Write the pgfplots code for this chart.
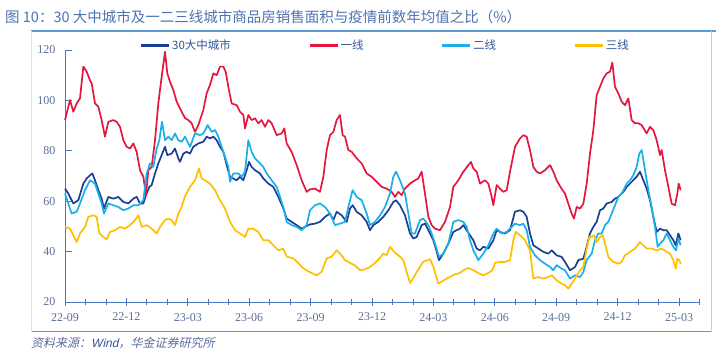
\documentclass[border=0pt]{standalone}
\usepackage{pgfplots}
\pgfplotsset{compat=1.18}
\usepackage{fontspec}
\setmainfont{Liberation Serif}
\newfontfamily\cjk{Noto Sans CJK SC}
\newfontfamily\cjkit[FakeSlant=0.22]{Noto Sans CJK SC}
\newfontfamily\sfit[FakeSlant=0.22]{Liberation Sans}
\definecolor{cBig}{HTML}{1B3F94}
\definecolor{cOne}{HTML}{E5173F}
\definecolor{cTwo}{HTML}{1AAFE8}
\definecolor{cThree}{HTML}{FFC000}
\definecolor{axisblue}{HTML}{4A76C0}
\definecolor{ticktext}{HTML}{5A6E9C}
\definecolor{titleblue}{HTML}{4E72B0}
\definecolor{legtext}{HTML}{2F5597}
\definecolor{frameblue}{HTML}{5B9BD5}
\begin{document}
\begin{tikzpicture}
\path[use as bounding box] (0,0) rectangle (716bp,364bp);
% frame
\draw[frameblue, line width=1.2bp] (31bp,333bp) -- (716bp,333bp);
\draw[frameblue, line width=1bp] (31bp,32bp) -- (711bp,32bp);
\draw[black!20, line width=0.8bp] (711bp,32bp) -- (711bp,333bp);
\draw[black!12, line width=0.8bp] (31bp,32bp) -- (31bp,333bp);
\node[anchor=west, inner sep=0pt, text=titleblue, font=\cjk\fontsize{14.5bp}{16bp}\selectfont] at (5bp,347bp) {图 10：30 大中城市及一二三线城市商品房销售面积与疫情前数年均值之比（\%）};
\node[anchor=west, inner sep=0pt, text=ticktext, font=\cjkit\fontsize{12bp}{14bp}\selectfont] at (31bp,21bp) {资料来源：{\sfit\color{legtext}Wind}，华金证券研究所};
\begin{axis}[
  at={(65bp,62bp)}, anchor=south west,
  scale only axis, width=635bp, height=252bp,
  xmin=0, xmax=1905, ymin=20, ymax=120,
  axis x line*=bottom, axis y line*=left,
  axis line style={axisblue, line width=1bp},
  xtick={0,184.2,368.4,552.6,736.8,921,1105.2,1289.4,1473.6,1657.8,1842},
  xticklabels={22-09,22-12,23-03,23-06,23-09,23-12,24-03,24-06,24-09,24-12,25-03},
  minor xtick={61.4,122.8,245.6,307,429.8,491.2,614,675.4,798.2,859.6,982.4,1043.8,1166.6,1228,1350.8,1412.2,1535,1596.4,1719.2,1780.6,1903.4},
  ytick={20,40,60,80,100,120},
  tick style={axisblue, line width=0.8bp},
  xtick align=center, major tick length=7bp, minor tick length=5bp,
  ytick align=inside,
  ticklabel style={text=ticktext, font=\fontsize{12bp}{14bp}\selectfont},
  /pgf/number format/assume math mode=true,
  xticklabel style={yshift=-4bp},
  yticklabel style={xshift=-6bp},
  no markers,
  every axis plot/.append style={line width=1.7bp, line join=round},
  legend columns=4,
  legend style={draw=none, fill=none, at={(0.118,1.018)}, anchor=west, inner xsep=0pt,
    font=\cjk\fontsize{11.5bp}{13bp}\selectfont, text=legtext,
    nodes={inner xsep=1.5bp},
    /tikz/every odd column/.append style={column sep=0bp},
    /tikz/every even column/.append style={column sep=76bp}},
  legend image code/.code={\draw[#1, line width=2.6bp] (0bp,0bp) -- (28bp,0bp);},
  clip=false,
]
\addplot[cBig] coordinates {(0,65)(10,63)(25,59.1)(40,60.4)(55,67)(65,69)(75,70.3)(82,71)(90,68.3)(100,64.4)(110,61)(117,57.1)(130,61.7)(145,61)(160,61.7)(175,59.7)(190,59.1)(205,61)(215,61.7)(225,59.1)(235,59.1)(243,62.4)(253,65.7)(260,66.4)(270,71)(280,75)(290,78.3)(300,81.6)(307,78.3)(320,78.9)(330,80.9)(340,77)(345,75.6)(355,78.9)(365,79.6)(375,78.9)(385,81.6)(400,82.9)(415,83.6)(425,85.6)(435,84.9)(445,85.6)(455,84.2)(465,81.6)(475,79.6)(485,74.3)(495,69.7)(505,69)(515,68.3)(525,69.7)(535,68.3)(545,72.3)(552,75.6)(560,73.6)(570,72.3)(585,71)(595,69)(610,67)(625,65.7)(640,61.7)(655,57.1)(665,53.1)(680,51.8)(695,50.5)(710,49.1)(720,49.8)(735,50.8)(750,51.1)(765,51.8)(780,53.8)(795,55.1)(805,52.5)(815,55.8)(830,54.4)(845,51.8)(855,57.1)(863,58.4)(875,55.8)(890,54.4)(905,51.8)(915,48.5)(925,50.5)(940,51.8)(955,53.8)(970,56.4)(985,59.7)(993,60.4)(1005,58.4)(1020,54.4)(1035,47.2)(1045,45.2)(1055,45.8)(1070,50.5)(1080,51.1)(1090,48.5)(1105,44.5)(1113,41)(1122,36.6)(1135,39.2)(1150,43.2)(1165,47.8)(1175,48.5)(1185,49.1)(1195,50.5)(1205,48.5)(1215,46.5)(1225,44.5)(1235,41.2)(1245,40.5)(1255,41.9)(1270,41.2)(1285,44.5)(1295,48.5)(1305,47.8)(1320,47.2)(1335,48.5)(1350,55.8)(1365,56.4)(1375,55.8)(1385,53.8)(1395,47.2)(1405,42.5)(1420,41.2)(1435,39.9)(1450,39.2)(1460,40.5)(1475,38.5)(1490,37.9)(1500,35.9)(1515,32.6)(1530,33.9)(1540,36.6)(1555,37.2)(1565,41.9)(1575,47.2)(1585,49.8)(1595,51.8)(1605,56.4)(1615,57.1)(1625,59.1)(1640,59.7)(1650,61)(1660,61.7)(1675,63.7)(1685,65.7)(1700,67.7)(1715,69.7)(1725,71.7)(1735,68.3)(1745,65)(1755,60.4)(1765,53.8)(1775,47.8)(1785,49.1)(1795,48.5)(1805,48.5)(1815,46.5)(1825,44.5)(1832,42.5)(1840,47.2)(1847,44.5)};
\addlegendentry{30大中城市}
\addplot[cOne] coordinates {(0,92.2)(15,100.1)(25,95.5)(35,98.8)(45,100.8)(55,113.4)(65,111.4)(75,108)(80,106.8)(90,98.8)(100,97.5)(110,92.2)(120,85.6)(130,91.5)(145,92.2)(155,91.5)(165,89.5)(175,84.2)(185,81.6)(195,80.9)(205,82.9)(215,79.6)(225,72.3)(235,69.7)(243,62.4)(250,72.3)(260,73.6)(270,84.2)(280,98.8)(290,109.4)(300,119.3)(307,110.7)(315,107.4)(325,104.1)(335,99.5)(345,96.8)(360,93)(370,92.2)(380,90.9)(390,87.5)(400,90.2)(415,96.2)(425,102.8)(435,106.1)(445,110.7)(455,110)(465,113.4)(475,113.4)(482,111.4)(490,105.4)(500,98.8)(515,98.1)(525,95.5)(535,94.2)(540,88.9)(550,94.2)(560,92.2)(570,92.9)(580,90.9)(590,92.2)(600,89.5)(610,92.2)(620,90.9)(635,86.2)(650,86.9)(658,88.9)(665,82.9)(680,79.6)(695,74.3)(710,68.3)(725,63.7)(735,64.7)(750,65)(765,63.7)(775,69.7)(785,80.3)(795,86.2)(805,87.5)(815,92.2)(825,94.2)(833,86.2)(840,85.6)(850,80.3)(860,79.6)(875,77)(890,75)(905,71)(920,69.7)(935,67.7)(950,65.7)(965,65)(980,63.7)(990,61.7)(1000,63.7)(1010,62.4)(1020,65)(1035,67)(1050,68.3)(1060,69)(1070,71.7)(1080,63)(1090,53.8)(1100,50.5)(1110,49.1)(1125,48.5)(1140,51.8)(1155,57.7)(1165,65.7)(1180,68.3)(1195,71.7)(1210,74.3)(1218,75.6)(1225,73)(1235,71.7)(1245,67)(1260,68.3)(1270,67)(1280,61.7)(1285,58.4)(1295,66.4)(1305,65)(1315,63.7)(1325,64.4)(1335,71.7)(1350,81.6)(1365,84.9)(1375,86.2)(1385,85.6)(1395,80.3)(1405,73.6)(1415,71.7)(1425,71)(1440,72.3)(1455,74.3)(1465,71.7)(1475,68.3)(1487,65.5)(1500,63)(1510,59)(1520,55.1)(1527,53.1)(1535,57.7)(1545,57.1)(1555,59)(1565,67)(1575,78.9)(1585,88.2)(1595,102.1)(1605,105.4)(1615,108.7)(1625,110.7)(1635,111.4)(1642,115)(1650,105.4)(1660,102.8)(1670,99.5)(1680,98.1)(1690,100.8)(1700,92.2)(1710,90.9)(1720,90.9)(1730,90.2)(1745,86.9)(1755,89.5)(1765,88.2)(1775,84.2)(1785,78.3)(1790,80.3)(1800,72.3)(1810,65.7)(1820,59)(1830,58.4)(1837,63)(1841,67)(1847,64.4)};
\addlegendentry{一线}
\addplot[cTwo] coordinates {(0,63)(10,59.1)(20,55.1)(35,55.8)(45,59.1)(60,64.4)(75,68.3)(90,67)(100,63)(110,59.1)(117,55.1)(130,59.1)(145,58.4)(160,57.7)(175,56.4)(190,57.1)(205,58.4)(220,58.4)(235,60.4)(245,71)(255,75)(265,73.6)(275,80.9)(283,84.2)(291,91.5)(300,84.2)(310,85.6)(320,84.2)(330,86.9)(340,84.2)(350,83.6)(360,85.6)(375,81.6)(390,86.9)(405,86.2)(415,86.9)(428,90.2)(440,87.5)(450,88.2)(460,85.6)(470,81.6)(480,77.6)(490,73.6)(495,67.7)(505,71)(520,71)(530,69.7)(540,71.7)(550,84.2)(560,79.6)(570,77)(585,75)(595,73.6)(605,71)(620,68.3)(635,65.7)(645,61.7)(655,57.7)(665,51.8)(680,50.5)(695,49.8)(710,48.5)(725,50.5)(735,56.4)(750,58.4)(765,59.1)(780,57.7)(795,55.1)(810,50.5)(825,51.1)(840,51.8)(850,57.7)(863,64.4)(875,61.7)(890,60.4)(905,55.1)(915,50.5)(930,51.8)(945,54.4)(960,57.7)(975,63)(985,69.7)(993,71.7)(1005,68.3)(1020,63)(1030,55.1)(1040,47.2)(1050,47.2)(1065,52.5)(1075,53.1)(1090,50.5)(1100,47.2)(1110,43.2)(1122,37.9)(1135,39.2)(1150,43.2)(1165,51.8)(1180,52.5)(1195,51.8)(1205,49.8)(1215,44.5)(1225,40.5)(1240,36.6)(1255,39.2)(1270,42.5)(1285,47.2)(1295,49.1)(1310,47.2)(1325,47.8)(1340,49.8)(1350,51.1)(1365,50.5)(1375,51.1)(1385,48.5)(1395,41.9)(1410,38.5)(1425,36.6)(1440,35.2)(1455,33.9)(1465,32.6)(1475,34.6)(1490,33.2)(1500,32.6)(1515,29.3)(1530,30.6)(1545,29.9)(1555,31.9)(1565,36.6)(1580,39.2)(1590,44.5)(1600,47.2)(1610,47.2)(1620,50.5)(1630,51.8)(1640,55.1)(1650,58.4)(1660,61.7)(1670,63)(1685,67)(1695,68.3)(1705,70.3)(1715,73.6)(1723,78.9)(1730,80.3)(1740,72.3)(1750,64.4)(1760,57.7)(1770,49.8)(1778,41.9)(1785,43.2)(1795,44.5)(1805,47.2)(1815,44.5)(1825,41.9)(1833,40.5)(1840,45.2)(1847,42.5)};
\addlegendentry{二线}
\addplot[cThree] coordinates {(0,49.8)(15,49.1)(25,46.5)(35,43.8)(45,47.2)(60,49.8)(70,53.8)(85,54.4)(95,53.8)(103,47.2)(115,45.8)(125,44.8)(135,47.8)(150,48.5)(165,49.8)(180,49.1)(195,50.5)(210,52.5)(220,54.4)(230,49.8)(245,50.5)(260,49.1)(275,47.2)(285,49.8)(300,52.5)(310,53.1)(320,52.5)(330,50.5)(340,55.1)(350,57.7)(360,62)(375,65.7)(390,68.3)(402,73)(410,69)(420,68.3)(435,67)(450,64.4)(465,60.4)(480,57.1)(495,51.8)(510,48.5)(525,47.2)(540,45.8)(550,49.1)(565,49.1)(580,47.8)(595,44.5)(610,44.5)(625,42.5)(640,40.5)(655,41.2)(665,38)(685,37.3)(700,35.5)(710,33.9)(725,32.5)(740,31.5)(755,30.6)(770,32)(785,37.3)(800,38)(815,40.5)(830,38.5)(840,36.6)(855,35.5)(870,34.5)(885,32.6)(900,33)(915,33.9)(930,35.5)(945,37.5)(955,39.2)(965,38.5)(975,41.9)(990,39.5)(1005,38)(1015,36.6)(1025,32)(1035,27.6)(1045,29.5)(1060,33)(1075,36)(1095,37)(1105,34)(1120,27.3)(1135,28.5)(1155,30)(1170,31)(1185,31.5)(1195,32.6)(1210,33.5)(1225,32.6)(1240,31.5)(1255,30.6)(1270,31.5)(1282,32.6)(1290,35.5)(1305,35.9)(1320,35.9)(1335,36.6)(1345,44.5)(1352,47.8)(1365,46.5)(1380,44.5)(1395,40.5)(1405,29.3)(1420,29.9)(1435,29.3)(1450,29.9)(1460,30.6)(1475,28.6)(1490,27.3)(1500,26.6)(1510,25.3)(1520,27.3)(1530,29.3)(1545,32.6)(1555,33.9)(1565,41.2)(1573,45.8)(1580,45.8)(1587,46.5)(1595,43.8)(1605,45.8)(1613,46.5)(1620,43.2)(1630,37.9)(1645,35.9)(1660,35.2)(1670,35.9)(1680,38.5)(1695,39.9)(1710,41.2)(1725,43.8)(1735,42.5)(1745,41.2)(1760,41.2)(1775,40.5)(1790,41.2)(1805,39.9)(1815,39.2)(1825,36.6)(1832,33.2)(1837,37.2)(1843,36.6)(1847,35.2)};
\addlegendentry{三线}
\end{axis}
\end{tikzpicture}
\end{document}
